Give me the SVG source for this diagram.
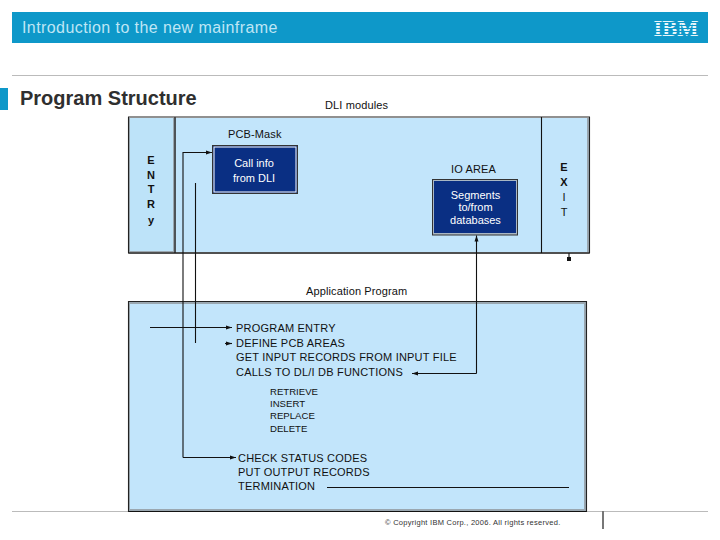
<svg xmlns="http://www.w3.org/2000/svg" width="720" height="540" viewBox="0 0 720 540">
<style>
text{font-family:"Liberation Sans",Arial,sans-serif;fill:#111}
.lbl{font-size:11px;letter-spacing:.12px}
.code{font-size:11px;letter-spacing:.21px}
.sub{font-size:9.600px}
.side{font-size:11px;text-anchor:middle}
.in{font-size:11px;fill:#fff;text-anchor:middle}
.frame{fill:none;stroke:#222;stroke-width:1.100}
.wire{fill:none;stroke:#111;stroke-width:1.100}
</style>
<defs>
<marker id="a" markerWidth="7" markerHeight="6" refX="6" refY="3" orient="auto" markerUnits="userSpaceOnUse"><path d="M0 1L6 3L0 5z" fill="#111"/></marker>
</defs>
<g id="header">
<rect x="12" y="12" width="696" height="31" fill="#0e98c9"/>
<text x="22" y="32.500" font-size="16" style="fill:#bfe6f5" letter-spacing=".42">Introduction to the new mainframe</text>
<text x="676" y="36" font-size="23" text-anchor="middle" style="font-family:'Liberation Serif',serif;fill:#e8f6fb;font-weight:bold" textLength="45" lengthAdjust="spacingAndGlyphs">IBM</text>
<g fill="#0e98c9"><rect x="652" y="22" width="48" height="1"/><rect x="652" y="25" width="48" height="1"/><rect x="652" y="28" width="48" height="1"/><rect x="652" y="31" width="48" height="1"/><rect x="652" y="34" width="48" height="1"/></g>
<rect x="12" y="75" width="696" height="1" fill="#bbb"/>
<rect x="0" y="88" width="8" height="22" fill="#0e98c9"/>
<text x="20" y="104.500" font-size="20" font-weight="bold" style="fill:#2f2f2f">Program Structure</text>
<text x="325" y="109" class="lbl">DLI modules</text>
</g>
<g id="footer">
<rect x="12" y="511" width="696" height="1" fill="#bbb"/>
<rect x="602" y="511" width="2" height="18" fill="#777"/>
<text x="385" y="525" font-size="7.500" letter-spacing=".27" style="fill:#333">© Copyright IBM Corp., 2006. All rights reserved.</text>
</g>
<g id="dli-modules">
<rect x="129" y="118" width="460" height="134" fill="#9aa7b0"/>
<rect x="176" y="118" width="410" height="134" fill="#c2e5fb"/>
<rect x="130" y="118" width="43" height="133" fill="#bde3f9"/>
<rect x="543" y="118" width="44" height="134" fill="#c2e5fb"/>
<path class="frame" d="M128.500 253V117H589.500V253Z"/>
<path class="wire" d="M175 117V253M541.500 117V253"/>
<path class="wire" d="M128.500 253H589.500"/>
</g>
<g id="entry">
<text class="side" x="151" y="164" font-weight="bold">E</text>
<text class="side" x="151" y="179" font-weight="bold">N</text>
<text class="side" x="151" y="193" font-weight="bold">T</text>
<text class="side" x="151" y="208" font-weight="bold">R</text>
<text class="side" x="151" y="224" font-weight="bold">y</text>
</g>
<g id="exit">
<text class="side" x="564" y="171" font-weight="bold">E</text>
<text class="side" x="564" y="186" font-weight="bold">X</text>
<text class="side" x="564" y="201">I</text>
<text class="side" x="564" y="216">T</text>
</g>
<g id="pcb-mask">
<text x="228" y="138" class="lbl">PCB-Mask</text>
<rect x="212.500" y="145.500" width="85" height="48" fill="#0a2f83" stroke="#333"/>
<rect x="214" y="147" width="82" height="45" fill="none" stroke="#fff"/>
<text class="in" x="254" y="167">Call info</text>
<text class="in" x="254" y="182">from DLI</text>
</g>
<g id="io-area">
<text x="451" y="173" class="lbl">IO AREA</text>
<rect x="432.500" y="179.500" width="85" height="55.500" fill="#a9b7c4" stroke="#333"/>
<rect x="434" y="181" width="82" height="52" fill="#0a2f83"/>
<text class="in" x="475.500" y="199">Segments</text>
<text class="in" x="475.500" y="211">to/from</text>
<text class="in" x="475.500" y="224">databases</text>
</g>
<g id="application-program">
<text x="306" y="295" class="lbl">Application Program</text>
<rect x="129" y="302" width="457" height="209" fill="#9aa7b0"/>
<rect x="130" y="304" width="454" height="205" fill="#c2e5fb"/>
<path class="frame" d="M128.500 511.500V301.500H586.500V511.500Z"/>
<path class="wire" d="M128.500 511.500H586.500"/>
<text class="code" x="236" y="332">PROGRAM ENTRY</text>
<text class="code" x="236" y="347">DEFINE PCB AREAS</text>
<text class="code" x="236" y="361">GET INPUT RECORDS FROM INPUT FILE</text>
<text class="code" x="236" y="376">CALLS TO DL/I DB FUNCTIONS</text>
<text class="sub" x="270" y="395">RETRIEVE</text>
<text class="sub" x="270" y="407">INSERT</text>
<text class="sub" x="270" y="419">REPLACE</text>
<text class="sub" x="270" y="432">DELETE</text>
<text class="code" x="238" y="462">CHECK STATUS CODES</text>
<text class="code" x="238" y="476">PUT OUTPUT RECORDS</text>
<text class="code" x="238" y="490">TERMINATION</text>
</g>
<g id="connectors">
<path class="wire" d="M183 457.500V152.500H212" marker-end="url(#a)"/>
<path class="wire" d="M183 457.500H236" marker-end="url(#a)"/>
<path class="wire" d="M195.500 183V343"/>
<path class="wire" d="M150 327.500H232" marker-end="url(#a)"/>
<path class="wire" d="M225 343.500H232" marker-end="url(#a)"/>
<path class="wire" d="M476.500 373.500V235.500" marker-end="url(#a)"/>
<path class="wire" d="M476.500 373.500H412" marker-end="url(#a)"/>
<path class="wire" d="M327 487.500H569"/>
<path class="wire" d="M569 253V261"/>
<rect x="567" y="257" width="4" height="4" fill="#111"/>
</g>
</svg>
